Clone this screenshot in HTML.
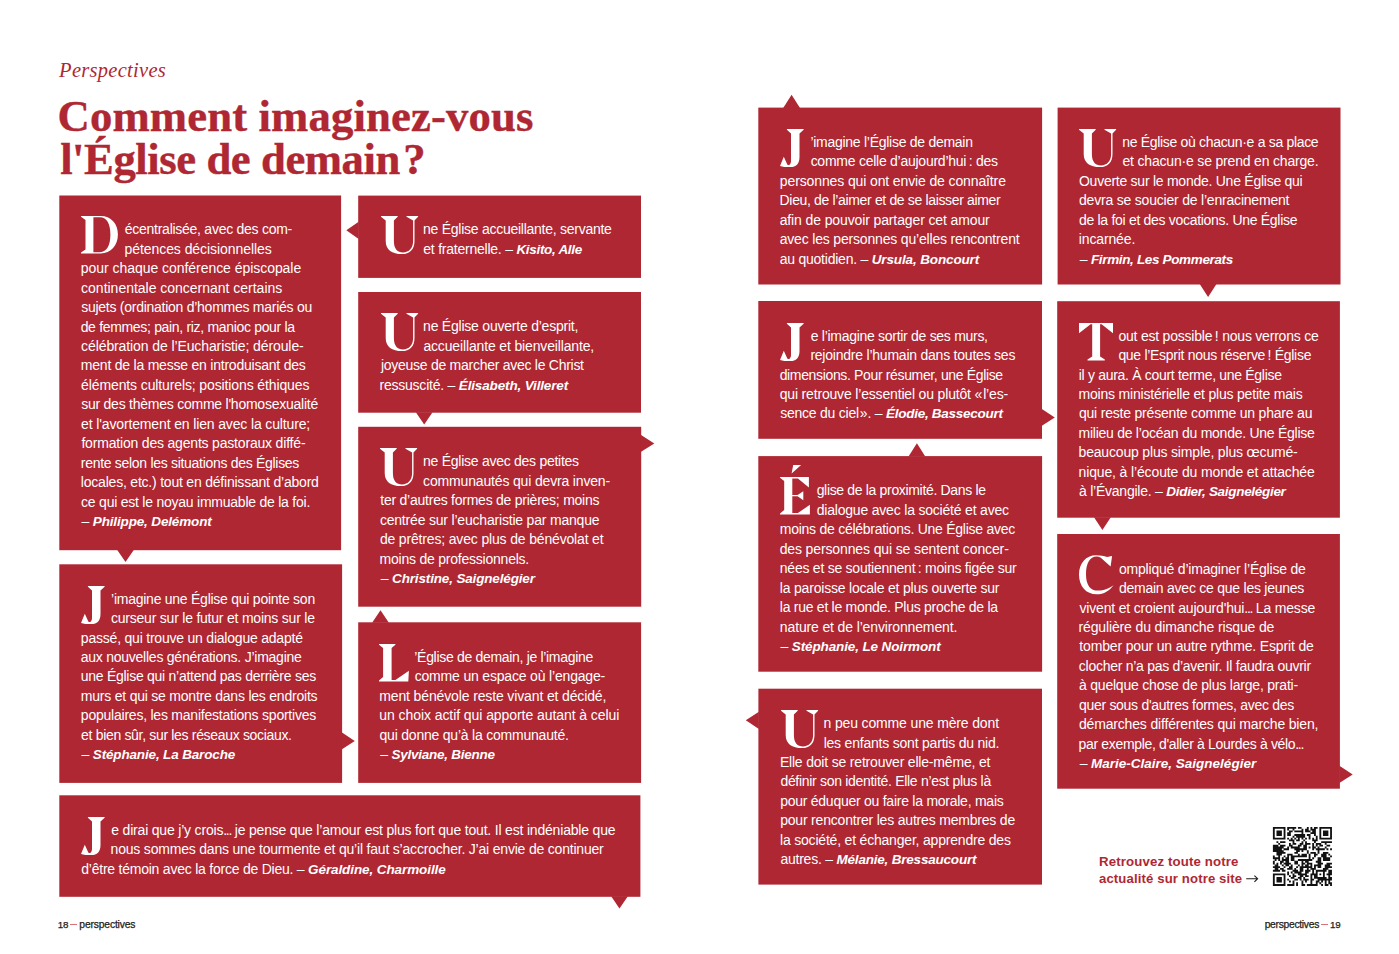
<!DOCTYPE html>
<html lang="fr"><head><meta charset="utf-8"><title>Perspectives</title>
<style>
html,body{margin:0;padding:0;background:#fff;}
body{width:1399px;height:954px;position:relative;overflow:hidden;font-family:"Liberation Sans",sans-serif;}
.ln{position:absolute;white-space:nowrap;color:#fff;font-size:14.0px;line-height:20px;height:20px;font-family:"Liberation Sans",sans-serif;}
.ln b{font-weight:bold;font-size:13.5px;}
.cap{position:absolute;color:#fff;-webkit-text-stroke:1.1px #fff;font-family:"Liberation Serif",serif;font-weight:bold;white-space:nowrap;transform-origin:0 0;}
svg.bg{position:absolute;left:0;top:0;}
.kick{position:absolute;font-family:"Liberation Serif",serif;font-style:italic;color:#af2732;white-space:nowrap;transform-origin:0 0;}
.h1{-webkit-text-stroke:0.4px #af2732;position:absolute;font-family:"Liberation Serif",serif;font-weight:bold;color:#af2732;white-space:nowrap;margin:0;transform-origin:0 0;}
.ft{position:absolute;color:#1d1d1b;white-space:nowrap;font-family:"Liberation Sans",sans-serif;transform-origin:0 0;}
.ft i{display:inline-block;width:7.5px;height:1px;background:#d9707a;vertical-align:2.6px;margin:0 1.9px 0 1.7px;}
.ft .dg{font-size:9.8px;}
.ft{-webkit-text-stroke:0.25px #1d1d1b;}
.qr{position:absolute;font-weight:bold;color:#af2732;white-space:nowrap;font-family:"Liberation Sans",sans-serif;transform-origin:0 0;}
</style></head><body>

<svg class="bg" width="1399" height="954" viewBox="0 0 1399 954">
<g fill="#af2732">
<rect x="59.3" y="195.5" width="281.8" height="354.7"/>
<polygon points="117.1,549.7 133.9,549.7 125.5,562.1"/>
<rect x="358.2" y="195.6" width="282.8" height="82.3"/>
<polygon points="358.7,221.7 358.7,238.9 346.3,230.3"/>
<rect x="358.2" y="292.0" width="282.8" height="120.7"/>
<polygon points="415.8,412.2 432.6,412.2 424.2,424.6"/>
<rect x="358.2" y="426.8" width="283.0" height="179.9"/>
<polygon points="640.7,434.8 640.7,452.0 654.3,443.4"/>
<rect x="358.2" y="622.3" width="282.9" height="160.6"/>
<polygon points="372.1,622.8 388.9,622.8 380.5,610.3"/>
<rect x="59.3" y="564.3" width="282.8" height="218.6"/>
<polygon points="341.6,732.3 341.6,749.5 354.8,740.9"/>
<rect x="59.3" y="795.3" width="581.1" height="101.5"/>
<polygon points="611.1,896.3 627.9,896.3 619.5,908.5"/>
<rect x="758.3" y="107.6" width="283.8" height="176.9"/>
<polygon points="783.2,108.1 800.0,108.1 791.6,94.8"/>
<rect x="1057.6" y="107.6" width="282.9" height="176.9"/>
<polygon points="1199.7,284.0 1216.5,284.0 1208.1,296.9"/>
<rect x="758.3" y="301.0" width="283.7" height="137.8"/>
<polygon points="1041.5,408.8 1041.5,426.0 1054.8,417.4"/>
<rect x="1057.2" y="301.2" width="282.7" height="216.5"/>
<polygon points="1094.0,517.2 1110.8,517.2 1102.4,530.1"/>
<rect x="758.3" y="456.1" width="283.8" height="215.6"/>
<polygon points="908.5,456.6 925.3,456.6 916.9,443.3"/>
<rect x="1057.2" y="534.0" width="282.7" height="254.7"/>
<polygon points="1339.4,765.8 1339.4,783.0 1352.7,774.4"/>
<rect x="758.4" y="688.7" width="283.6" height="195.9"/>
<polygon points="758.9,711.7 758.9,728.9 745.8,720.3"/>
</g>
<path fill="#111" d="M1272.90 826.90h12.57v1.84h-12.57zM1287.20 826.90h8.99v1.84h-8.99zM1297.93 826.90h3.63v1.84h-3.63zM1306.87 826.90h1.84v1.84h-1.84zM1310.45 826.90h1.84v1.84h-1.84zM1314.02 826.90h3.63v1.84h-3.63zM1319.38 826.90h12.57v1.84h-12.57zM1272.90 828.69h1.84v1.84h-1.84zM1283.63 828.69h1.84v1.84h-1.84zM1287.20 828.69h1.84v1.84h-1.84zM1292.57 828.69h1.84v1.84h-1.84zM1301.51 828.69h1.84v1.84h-1.84zM1305.08 828.69h3.63v1.84h-3.63zM1310.45 828.69h5.41v1.84h-5.41zM1319.38 828.69h1.84v1.84h-1.84zM1330.11 828.69h1.84v1.84h-1.84zM1272.90 830.48h1.84v1.84h-1.84zM1276.48 830.48h5.41v1.84h-5.41zM1283.63 830.48h1.84v1.84h-1.84zM1288.99 830.48h3.63v1.84h-3.63zM1294.35 830.48h8.99v1.84h-8.99zM1305.08 830.48h5.41v1.84h-5.41zM1312.23 830.48h3.63v1.84h-3.63zM1319.38 830.48h1.84v1.84h-1.84zM1322.96 830.48h5.41v1.84h-5.41zM1330.11 830.48h1.84v1.84h-1.84zM1272.90 832.26h1.84v1.84h-1.84zM1276.48 832.26h5.41v1.84h-5.41zM1283.63 832.26h1.84v1.84h-1.84zM1287.20 832.26h3.63v1.84h-3.63zM1301.51 832.26h1.84v1.84h-1.84zM1310.45 832.26h5.41v1.84h-5.41zM1319.38 832.26h1.84v1.84h-1.84zM1322.96 832.26h5.41v1.84h-5.41zM1330.11 832.26h1.84v1.84h-1.84zM1272.90 834.05h1.84v1.84h-1.84zM1276.48 834.05h5.41v1.84h-5.41zM1283.63 834.05h1.84v1.84h-1.84zM1287.20 834.05h3.63v1.84h-3.63zM1294.35 834.05h10.78v1.84h-10.78zM1306.87 834.05h3.63v1.84h-3.63zM1314.02 834.05h1.84v1.84h-1.84zM1319.38 834.05h1.84v1.84h-1.84zM1322.96 834.05h5.41v1.84h-5.41zM1330.11 834.05h1.84v1.84h-1.84zM1272.90 835.84h1.84v1.84h-1.84zM1283.63 835.84h1.84v1.84h-1.84zM1292.57 835.84h1.84v1.84h-1.84zM1296.14 835.84h8.99v1.84h-8.99zM1308.66 835.84h1.84v1.84h-1.84zM1315.81 835.84h1.84v1.84h-1.84zM1319.38 835.84h1.84v1.84h-1.84zM1330.11 835.84h1.84v1.84h-1.84zM1272.90 837.63h12.57v1.84h-12.57zM1287.20 837.63h1.84v1.84h-1.84zM1290.78 837.63h1.84v1.84h-1.84zM1294.35 837.63h1.84v1.84h-1.84zM1297.93 837.63h1.84v1.84h-1.84zM1301.51 837.63h1.84v1.84h-1.84zM1305.08 837.63h1.84v1.84h-1.84zM1308.66 837.63h1.84v1.84h-1.84zM1312.23 837.63h1.84v1.84h-1.84zM1315.81 837.63h1.84v1.84h-1.84zM1319.38 837.63h12.57v1.84h-12.57zM1288.99 839.42h5.41v1.84h-5.41zM1296.14 839.42h3.63v1.84h-3.63zM1303.29 839.42h1.84v1.84h-1.84zM1312.23 839.42h5.41v1.84h-5.41zM1276.48 841.20h1.84v1.84h-1.84zM1280.05 841.20h5.41v1.84h-5.41zM1292.57 841.20h1.84v1.84h-1.84zM1301.51 841.20h1.84v1.84h-1.84zM1305.08 841.20h1.84v1.84h-1.84zM1314.02 841.20h1.84v1.84h-1.84zM1321.17 841.20h10.78v1.84h-10.78zM1278.26 842.99h1.84v1.84h-1.84zM1288.99 842.99h1.84v1.84h-1.84zM1292.57 842.99h3.63v1.84h-3.63zM1299.72 842.99h3.63v1.84h-3.63zM1305.08 842.99h5.41v1.84h-5.41zM1312.23 842.99h1.84v1.84h-1.84zM1315.81 842.99h5.41v1.84h-5.41zM1324.75 842.99h1.84v1.84h-1.84zM1272.90 844.78h5.41v1.84h-5.41zM1280.05 844.78h5.41v1.84h-5.41zM1288.99 844.78h3.63v1.84h-3.63zM1297.93 844.78h3.63v1.84h-3.63zM1303.29 844.78h3.63v1.84h-3.63zM1312.23 844.78h1.84v1.84h-1.84zM1315.81 844.78h1.84v1.84h-1.84zM1319.38 844.78h3.63v1.84h-3.63zM1326.54 844.78h3.63v1.84h-3.63zM1272.90 846.57h10.78v1.84h-10.78zM1287.20 846.57h1.84v1.84h-1.84zM1290.78 846.57h8.99v1.84h-8.99zM1303.29 846.57h3.63v1.84h-3.63zM1308.66 846.57h1.84v1.84h-1.84zM1312.23 846.57h3.63v1.84h-3.63zM1317.60 846.57h1.84v1.84h-1.84zM1324.75 846.57h1.84v1.84h-1.84zM1272.90 848.35h8.99v1.84h-8.99zM1283.63 848.35h5.41v1.84h-5.41zM1294.35 848.35h12.57v1.84h-12.57zM1312.23 848.35h1.84v1.84h-1.84zM1315.81 848.35h8.99v1.84h-8.99zM1326.54 848.35h1.84v1.84h-1.84zM1330.11 848.35h1.84v1.84h-1.84zM1272.90 850.14h10.78v1.84h-10.78zM1296.14 850.14h3.63v1.84h-3.63zM1301.51 850.14h1.84v1.84h-1.84zM1306.87 850.14h1.84v1.84h-1.84zM1317.60 850.14h1.84v1.84h-1.84zM1276.48 851.93h8.99v1.84h-8.99zM1294.35 851.93h3.63v1.84h-3.63zM1306.87 851.93h1.84v1.84h-1.84zM1310.45 851.93h5.41v1.84h-5.41zM1317.60 851.93h1.84v1.84h-1.84zM1322.96 851.93h5.41v1.84h-5.41zM1276.48 853.72h5.41v1.84h-5.41zM1287.20 853.72h5.41v1.84h-5.41zM1297.93 853.72h1.84v1.84h-1.84zM1301.51 853.72h5.41v1.84h-5.41zM1308.66 853.72h1.84v1.84h-1.84zM1314.02 853.72h3.63v1.84h-3.63zM1321.17 853.72h5.41v1.84h-5.41zM1328.32 853.72h1.84v1.84h-1.84zM1272.90 855.51h1.84v1.84h-1.84zM1278.26 855.51h1.84v1.84h-1.84zM1283.63 855.51h1.84v1.84h-1.84zM1287.20 855.51h1.84v1.84h-1.84zM1290.78 855.51h16.14v1.84h-16.14zM1308.66 855.51h1.84v1.84h-1.84zM1314.02 855.51h1.84v1.84h-1.84zM1321.17 855.51h5.41v1.84h-5.41zM1330.11 855.51h1.84v1.84h-1.84zM1272.90 857.29h7.20v1.84h-7.20zM1281.84 857.29h1.84v1.84h-1.84zM1285.42 857.29h3.63v1.84h-3.63zM1290.78 857.29h3.63v1.84h-3.63zM1308.66 857.29h1.84v1.84h-1.84zM1312.23 857.29h1.84v1.84h-1.84zM1317.60 857.29h3.63v1.84h-3.63zM1322.96 857.29h7.20v1.84h-7.20zM1274.69 859.08h1.84v1.84h-1.84zM1278.26 859.08h1.84v1.84h-1.84zM1281.84 859.08h7.20v1.84h-7.20zM1290.78 859.08h3.63v1.84h-3.63zM1297.93 859.08h14.35v1.84h-14.35zM1317.60 859.08h3.63v1.84h-3.63zM1322.96 859.08h7.20v1.84h-7.20zM1272.90 860.87h1.84v1.84h-1.84zM1280.05 860.87h3.63v1.84h-3.63zM1285.42 860.87h3.63v1.84h-3.63zM1294.35 860.87h3.63v1.84h-3.63zM1301.51 860.87h1.84v1.84h-1.84zM1305.08 860.87h3.63v1.84h-3.63zM1315.81 860.87h5.41v1.84h-5.41zM1272.90 862.66h1.84v1.84h-1.84zM1276.48 862.66h1.84v1.84h-1.84zM1280.05 862.66h1.84v1.84h-1.84zM1283.63 862.66h7.20v1.84h-7.20zM1294.35 862.66h3.63v1.84h-3.63zM1301.51 862.66h3.63v1.84h-3.63zM1306.87 862.66h5.41v1.84h-5.41zM1317.60 862.66h5.41v1.84h-5.41zM1326.54 862.66h5.41v1.84h-5.41zM1274.69 864.45h3.63v1.84h-3.63zM1281.84 864.45h1.84v1.84h-1.84zM1285.42 864.45h3.63v1.84h-3.63zM1290.78 864.45h1.84v1.84h-1.84zM1297.93 864.45h1.84v1.84h-1.84zM1301.51 864.45h1.84v1.84h-1.84zM1305.08 864.45h3.63v1.84h-3.63zM1310.45 864.45h1.84v1.84h-1.84zM1314.02 864.45h7.20v1.84h-7.20zM1324.75 864.45h5.41v1.84h-5.41zM1272.90 866.23h7.20v1.84h-7.20zM1283.63 866.23h1.84v1.84h-1.84zM1288.99 866.23h3.63v1.84h-3.63zM1296.14 866.23h1.84v1.84h-1.84zM1299.72 866.23h12.57v1.84h-12.57zM1314.02 866.23h1.84v1.84h-1.84zM1317.60 866.23h3.63v1.84h-3.63zM1324.75 866.23h7.20v1.84h-7.20zM1274.69 868.02h3.63v1.84h-3.63zM1280.05 868.02h3.63v1.84h-3.63zM1287.20 868.02h5.41v1.84h-5.41zM1294.35 868.02h1.84v1.84h-1.84zM1299.72 868.02h3.63v1.84h-3.63zM1306.87 868.02h1.84v1.84h-1.84zM1310.45 868.02h5.41v1.84h-5.41zM1322.96 868.02h5.41v1.84h-5.41zM1272.90 869.81h7.20v1.84h-7.20zM1281.84 869.81h3.63v1.84h-3.63zM1292.57 869.81h5.41v1.84h-5.41zM1299.72 869.81h3.63v1.84h-3.63zM1305.08 869.81h5.41v1.84h-5.41zM1312.23 869.81h1.84v1.84h-1.84zM1315.81 869.81h10.78v1.84h-10.78zM1328.32 869.81h3.63v1.84h-3.63zM1287.20 871.60h1.84v1.84h-1.84zM1290.78 871.60h1.84v1.84h-1.84zM1294.35 871.60h7.20v1.84h-7.20zM1305.08 871.60h3.63v1.84h-3.63zM1312.23 871.60h1.84v1.84h-1.84zM1315.81 871.60h1.84v1.84h-1.84zM1322.96 871.60h1.84v1.84h-1.84zM1328.32 871.60h3.63v1.84h-3.63zM1272.90 873.38h12.57v1.84h-12.57zM1287.20 873.38h1.84v1.84h-1.84zM1292.57 873.38h1.84v1.84h-1.84zM1297.93 873.38h8.99v1.84h-8.99zM1310.45 873.38h7.20v1.84h-7.20zM1319.38 873.38h1.84v1.84h-1.84zM1322.96 873.38h1.84v1.84h-1.84zM1326.54 873.38h5.41v1.84h-5.41zM1272.90 875.17h1.84v1.84h-1.84zM1283.63 875.17h1.84v1.84h-1.84zM1288.99 875.17h1.84v1.84h-1.84zM1292.57 875.17h3.63v1.84h-3.63zM1299.72 875.17h3.63v1.84h-3.63zM1305.08 875.17h3.63v1.84h-3.63zM1310.45 875.17h1.84v1.84h-1.84zM1314.02 875.17h3.63v1.84h-3.63zM1322.96 875.17h1.84v1.84h-1.84zM1328.32 875.17h1.84v1.84h-1.84zM1272.90 876.96h1.84v1.84h-1.84zM1276.48 876.96h5.41v1.84h-5.41zM1283.63 876.96h1.84v1.84h-1.84zM1290.78 876.96h3.63v1.84h-3.63zM1297.93 876.96h3.63v1.84h-3.63zM1303.29 876.96h1.84v1.84h-1.84zM1310.45 876.96h1.84v1.84h-1.84zM1314.02 876.96h12.57v1.84h-12.57zM1328.32 876.96h3.63v1.84h-3.63zM1272.90 878.75h1.84v1.84h-1.84zM1276.48 878.75h5.41v1.84h-5.41zM1283.63 878.75h1.84v1.84h-1.84zM1287.20 878.75h1.84v1.84h-1.84zM1294.35 878.75h3.63v1.84h-3.63zM1299.72 878.75h1.84v1.84h-1.84zM1303.29 878.75h5.41v1.84h-5.41zM1310.45 878.75h3.63v1.84h-3.63zM1317.60 878.75h14.35v1.84h-14.35zM1272.90 880.54h1.84v1.84h-1.84zM1276.48 880.54h5.41v1.84h-5.41zM1283.63 880.54h1.84v1.84h-1.84zM1288.99 880.54h1.84v1.84h-1.84zM1292.57 880.54h1.84v1.84h-1.84zM1301.51 880.54h1.84v1.84h-1.84zM1305.08 880.54h1.84v1.84h-1.84zM1310.45 880.54h1.84v1.84h-1.84zM1315.81 880.54h3.63v1.84h-3.63zM1321.17 880.54h1.84v1.84h-1.84zM1324.75 880.54h1.84v1.84h-1.84zM1328.32 880.54h1.84v1.84h-1.84zM1272.90 882.32h1.84v1.84h-1.84zM1283.63 882.32h1.84v1.84h-1.84zM1292.57 882.32h1.84v1.84h-1.84zM1296.14 882.32h1.84v1.84h-1.84zM1301.51 882.32h1.84v1.84h-1.84zM1310.45 882.32h1.84v1.84h-1.84zM1315.81 882.32h1.84v1.84h-1.84zM1319.38 882.32h1.84v1.84h-1.84zM1324.75 882.32h1.84v1.84h-1.84zM1328.32 882.32h3.63v1.84h-3.63zM1272.90 884.11h12.57v1.84h-12.57zM1287.20 884.11h7.20v1.84h-7.20zM1296.14 884.11h1.84v1.84h-1.84zM1301.51 884.11h3.63v1.84h-3.63zM1306.87 884.11h10.78v1.84h-10.78zM1321.17 884.11h1.84v1.84h-1.84zM1324.75 884.11h3.63v1.84h-3.63zM1330.11 884.11h1.84v1.84h-1.84z"/>
</svg>
<div class="kick" id="kick" style="left:59.085px;top:60.33px;font-size:20.5px;line-height:20.5px;letter-spacing:0.288182px;transform:scaleX(1)">Perspectives</div>
<h1 class="h1" id="h1a" style="left:57.53px;top:93.86px;font-size:44.7px;line-height:44.7px;letter-spacing:0.15225px;transform:scaleX(1)">Comment imaginez-vous</h1>
<h1 class="h1" id="h1b" style="left:60.13px;top:136.86px;font-size:44.7px;line-height:44.7px;letter-spacing:-0.433158px;transform:scaleX(1)">l'Église de demain ?</h1>
<svg class="cap" id="capA" style="position:absolute;left:80.90px;top:216.26px;overflow:visible" width="40" height="40"><path fill="#fff" fill-rule="evenodd" d="M0,0H19.6C30,0 36.9,7.5 36.9,18.6C36.9,29.7 30,37.4 19.6,37.4H0V36.6L4.5,33.4V3.9L0,0.8ZM12.4,1.2V36.2H19C26,36.2 29.4,29 29.4,18.6C29.4,8 26,1.2 19,1.2Z"/></svg>
<div class="ln" id="lnA1" style="left:124.81px;top:219px;letter-spacing:-0.264px">écentralisée, avec des com-</div>
<div class="ln" id="lnA2" style="left:124.47px;top:239px;letter-spacing:-0.060px">pétences décisionnelles</div>
<div class="ln" id="lnA3" style="left:80.86px;top:258px;letter-spacing:-0.046px">pour chaque conférence épiscopale</div>
<div class="ln" id="lnA4" style="left:81.11px;top:278px;letter-spacing:-0.014px">continentale concernant certains</div>
<div class="ln" id="lnA5" style="left:81.18px;top:297px;letter-spacing:-0.261px">sujets (ordination d’hommes mariés ou</div>
<div class="ln" id="lnA6" style="left:80.67px;top:317px;letter-spacing:-0.322px">de femmes; pain, riz, manioc pour la</div>
<div class="ln" id="lnA7" style="left:81.11px;top:336px;letter-spacing:-0.104px">célébration de l’Eucharistie; déroule-</div>
<div class="ln" id="lnA8" style="left:80.83px;top:355px;letter-spacing:-0.220px">ment de la messe en introduisant des</div>
<div class="ln" id="lnA9" style="left:81.11px;top:375px;letter-spacing:-0.118px">éléments culturels; positions éthiques</div>
<div class="ln" id="lnA10" style="left:81.18px;top:394px;letter-spacing:-0.239px">sur des thèmes comme l'homosexualité</div>
<div class="ln" id="lnA11" style="left:81.11px;top:414px;letter-spacing:-0.139px">et l'avortement en lien avec la culture;</div>
<div class="ln" id="lnA12" style="left:81.42px;top:433px;letter-spacing:-0.187px">formation des agents pastoraux diffé-</div>
<div class="ln" id="lnA13" style="left:80.83px;top:453px;letter-spacing:-0.299px">rente selon les situations des Églises</div>
<div class="ln" id="lnA14" style="left:80.86px;top:472px;letter-spacing:-0.212px">locales, etc.) tout en définissant d’abord</div>
<div class="ln" id="lnA15" style="left:81.11px;top:492px;letter-spacing:-0.236px">ce qui est le noyau immuable de la foi.</div>
<div class="ln" id="lnA16" style="left:81.57px;top:511px;letter-spacing:-0.230px">– <b style="letter-spacing:-0.148px"><i>Philippe, Delémont</i></b></div>
<svg class="cap" id="capB" style="position:absolute;left:380.50px;top:216.46px;overflow:visible" width="40" height="40"><path fill="#fff" fill-rule="evenodd" d="M0,0H16.7V0.8L12.9,4.4V25C12.9,33 16.5,36.4 22,36.4C28,36.4 32.1,32 32.1,25V4.4L25.5,0.8V0H37.1V0.8L33.5,4.4V25C33.5,33.5 28.5,38.1 21,38.1C11,38.1 4.7,34 4.7,25V4.4L0,0.8Z"/></svg>
<div class="ln" id="lnB1" style="left:423.07px;top:219px;letter-spacing:-0.260px">ne Église accueillante, servante</div>
<div class="ln" id="lnB2" style="left:423.27px;top:239px;letter-spacing:-0.230px">et fraternelle. – <b style="letter-spacing:-0.310px"><i>Kisito, Alle</i></b></div>
<svg class="cap" id="capC" style="position:absolute;left:380.50px;top:313.36px;overflow:visible" width="40" height="40"><path fill="#fff" fill-rule="evenodd" d="M0,0H16.7V0.8L12.9,4.4V25C12.9,33 16.5,36.4 22,36.4C28,36.4 32.1,32 32.1,25V4.4L25.5,0.8V0H37.1V0.8L33.5,4.4V25C33.5,33.5 28.5,38.1 21,38.1C11,38.1 4.7,34 4.7,25V4.4L0,0.8Z"/></svg>
<div class="ln" id="lnC1" style="left:423.07px;top:316px;letter-spacing:-0.222px">ne Église ouverte d’esprit,</div>
<div class="ln" id="lnC2" style="left:423.38px;top:336px;letter-spacing:-0.147px">accueillante et bienveillante,</div>
<div class="ln" id="lnC3" style="left:380.94px;top:355px;letter-spacing:-0.268px">joyeuse de marcher avec le Christ</div>
<div class="ln" id="lnC4" style="left:379.52px;top:375px;letter-spacing:-0.230px">ressuscité. – <b style="letter-spacing:-0.147px"><i>Élisabeth, Villeret</i></b></div>
<svg class="cap" id="capD" style="position:absolute;left:379.90px;top:448.46px;overflow:visible" width="40" height="40"><path fill="#fff" fill-rule="evenodd" d="M0,0H16.7V0.8L12.9,4.4V25C12.9,33 16.5,36.4 22,36.4C28,36.4 32.1,32 32.1,25V4.4L25.5,0.8V0H37.1V0.8L33.5,4.4V25C33.5,33.5 28.5,38.1 21,38.1C11,38.1 4.7,34 4.7,25V4.4L0,0.8Z"/></svg>
<div class="ln" id="lnD1" style="left:423.07px;top:451px;letter-spacing:-0.266px">ne Église avec des petites</div>
<div class="ln" id="lnD2" style="left:423.09px;top:471px;letter-spacing:-0.162px">communautés qui devra inven-</div>
<div class="ln" id="lnD3" style="left:380.33px;top:490px;letter-spacing:-0.244px">ter d’autres formes de prières; moins</div>
<div class="ln" id="lnD4" style="left:379.89px;top:510px;letter-spacing:-0.193px">centrée sur l’eucharistie par manque</div>
<div class="ln" id="lnD5" style="left:379.89px;top:529px;letter-spacing:-0.162px">de prêtres; avec plus de bénévolat et</div>
<div class="ln" id="lnD6" style="left:379.58px;top:549px;letter-spacing:-0.226px">moins de professionnels.</div>
<div class="ln" id="lnD7" style="left:380.86px;top:568px;letter-spacing:-0.230px">– <b style="letter-spacing:-0.155px"><i>Christine, Saignelégier</i></b></div>
<svg class="cap" id="capE" style="position:absolute;left:379.40px;top:644.06px;overflow:visible" width="40" height="40"><path fill="#fff" fill-rule="evenodd" d="M0,0H16.4V0.8L12.6,3.9V36.1H16.4L29.9,26.7L29.3,37.4H0V36.6L4.1,33V3.9L0,0.8Z"/></svg>
<div class="ln" id="lnE1" style="left:414.34px;top:647px;letter-spacing:-0.315px">’Église de demain, je l’imagine</div>
<div class="ln" id="lnE2" style="left:414.66px;top:666px;letter-spacing:-0.176px">comme un espace où l’engage-</div>
<div class="ln" id="lnE3" style="left:379.25px;top:686px;letter-spacing:-0.132px">ment bénévole reste vivant et décidé,</div>
<div class="ln" id="lnE4" style="left:379.34px;top:705px;letter-spacing:-0.071px">un choix actif qui apporte autant à celui</div>
<div class="ln" id="lnE5" style="left:379.55px;top:725px;letter-spacing:-0.215px">qui donne qu’à la communauté.</div>
<div class="ln" id="lnE6" style="left:380.37px;top:744px;letter-spacing:-0.230px">– <b style="letter-spacing:-0.259px"><i>Sylviane, Bienne</i></b></div>
<svg class="cap" id="capF" style="position:absolute;left:80.90px;top:585.66px;overflow:visible" width="40" height="40"><path fill="#fff" fill-rule="evenodd" d="M6.9,0H23.6V0.8L19.5,4.4V28C19.5,35 16,38.1 10.4,38.1C6,38.1 2.5,37.8 0,36.9L3.8,27.7L7.2,35.2C8,36.3 9,36.2 9.8,35.5C10.6,34.8 11,33.5 11,32V4.4L6.9,0.8Z"/></svg>
<div class="ln" id="lnF1" style="left:111.05px;top:589px;letter-spacing:-0.253px">’imagine une Église qui pointe son</div>
<div class="ln" id="lnF2" style="left:110.94px;top:608px;letter-spacing:-0.217px">curseur sur le futur et moins sur le</div>
<div class="ln" id="lnF3" style="left:80.86px;top:628px;letter-spacing:-0.215px">passé, qui trouve un dialogue adapté</div>
<div class="ln" id="lnF4" style="left:80.67px;top:647px;letter-spacing:-0.239px">aux nouvelles générations. J’imagine</div>
<div class="ln" id="lnF5" style="left:80.79px;top:666px;letter-spacing:-0.271px">une Église qui n’attend pas derrière ses</div>
<div class="ln" id="lnF6" style="left:80.83px;top:686px;letter-spacing:-0.221px">murs et qui se montre dans les endroits</div>
<div class="ln" id="lnF7" style="left:80.86px;top:705px;letter-spacing:-0.230px">populaires, les manifestations sportives</div>
<div class="ln" id="lnF8" style="left:81.11px;top:725px;letter-spacing:-0.324px">et bien sûr, sur les réseaux sociaux.</div>
<div class="ln" id="lnF9" style="left:81.57px;top:744px;letter-spacing:-0.230px">– <b style="letter-spacing:-0.154px"><i>Stéphanie, La Baroche</i></b></div>
<svg class="cap" id="capG" style="position:absolute;left:81.00px;top:816.66px;overflow:visible" width="40" height="40"><path fill="#fff" fill-rule="evenodd" d="M6.9,0H23.6V0.8L19.5,4.4V28C19.5,35 16,38.1 10.4,38.1C6,38.1 2.5,37.8 0,36.9L3.8,27.7L7.2,35.2C8,36.3 9,36.2 9.8,35.5C10.6,34.8 11,33.5 11,32V4.4L6.9,0.8Z"/></svg>
<div class="ln" id="lnG1" style="left:111.25px;top:820px;letter-spacing:-0.188px">e dirai que j’y crois<span style="letter-spacing:-1.3px">...</span> je pense que l’amour est plus fort que tout. Il est indéniable que</div>
<div class="ln" id="lnG2" style="left:110.58px;top:839px;letter-spacing:-0.197px">nous sommes dans une tourmente et qu’il faut s’accrocher. J’ai envie de continuer</div>
<div class="ln" id="lnG3" style="left:81.24px;top:859px;letter-spacing:-0.230px">d’être témoin avec la force de Dieu. – <b style="letter-spacing:-0.094px"><i>Géraldine, Charmoille</i></b></div>
<svg class="cap" id="capH" style="position:absolute;left:779.90px;top:129.06px;overflow:visible" width="40" height="40"><path fill="#fff" fill-rule="evenodd" d="M6.9,0H23.6V0.8L19.5,4.4V28C19.5,35 16,38.1 10.4,38.1C6,38.1 2.5,37.8 0,36.9L3.8,27.7L7.2,35.2C8,36.3 9,36.2 9.8,35.5C10.6,34.8 11,33.5 11,32V4.4L6.9,0.8Z"/></svg>
<div class="ln" id="lnH1" style="left:810.44px;top:132px;letter-spacing:-0.274px">’imagine l’Église de demain</div>
<div class="ln" id="lnH2" style="left:810.64px;top:151px;letter-spacing:-0.253px">comme celle d’aujourd’hui : des</div>
<div class="ln" id="lnH3" style="left:779.86px;top:171px;letter-spacing:-0.123px">personnes qui ont envie de connaître</div>
<div class="ln" id="lnH4" style="left:779.62px;top:190px;letter-spacing:-0.345px">Dieu, de l’aimer et de se laisser aimer</div>
<div class="ln" id="lnH5" style="left:779.67px;top:210px;letter-spacing:-0.119px">afin de pouvoir partager cet amour</div>
<div class="ln" id="lnH6" style="left:779.67px;top:229px;letter-spacing:-0.176px">avec les personnes qu’elles rencontrent</div>
<div class="ln" id="lnH7" style="left:779.67px;top:249px;letter-spacing:-0.230px">au quotidien. – <b style="letter-spacing:-0.135px"><i>Ursula, Boncourt</i></b></div>
<svg class="cap" id="capI" style="position:absolute;left:1079.20px;top:129.06px;overflow:visible" width="40" height="40"><path fill="#fff" fill-rule="evenodd" d="M0,0H16.7V0.8L12.9,4.4V25C12.9,33 16.5,36.4 22,36.4C28,36.4 32.1,32 32.1,25V4.4L25.5,0.8V0H37.1V0.8L33.5,4.4V25C33.5,33.5 28.5,38.1 21,38.1C11,38.1 4.7,34 4.7,25V4.4L0,0.8Z"/></svg>
<div class="ln" id="lnI1" style="left:1122.16px;top:132px;letter-spacing:-0.315px">ne Église où chacun·e a sa place</div>
<div class="ln" id="lnI2" style="left:1122.47px;top:151px;letter-spacing:-0.183px">et chacun·e se prend en charge.</div>
<div class="ln" id="lnI3" style="left:1078.97px;top:171px;letter-spacing:-0.255px">Ouverte sur le monde. Une Église qui</div>
<div class="ln" id="lnI4" style="left:1078.97px;top:190px;letter-spacing:-0.200px">devra se soucier de l’enracinement</div>
<div class="ln" id="lnI5" style="left:1078.97px;top:210px;letter-spacing:-0.300px">de la foi et des vocations. Une Église</div>
<div class="ln" id="lnI6" style="left:1078.85px;top:229px;letter-spacing:-0.142px">incarnée.</div>
<div class="ln" id="lnI7" style="left:1079.72px;top:249px;letter-spacing:-0.230px">– <b style="letter-spacing:-0.349px"><i>Firmin, Les Pommerats</i></b></div>
<svg class="cap" id="capJ" style="position:absolute;left:779.90px;top:322.66px;overflow:visible" width="40" height="40"><path fill="#fff" fill-rule="evenodd" d="M6.9,0H23.6V0.8L19.5,4.4V28C19.5,35 16,38.1 10.4,38.1C6,38.1 2.5,37.8 0,36.9L3.8,27.7L7.2,35.2C8,36.3 9,36.2 9.8,35.5C10.6,34.8 11,33.5 11,32V4.4L6.9,0.8Z"/></svg>
<div class="ln" id="lnJ1" style="left:810.71px;top:326px;letter-spacing:-0.288px">e l’imagine sortir de ses murs,</div>
<div class="ln" id="lnJ2" style="left:810.39px;top:345px;letter-spacing:-0.225px">rejoindre l’humain dans toutes ses</div>
<div class="ln" id="lnJ3" style="left:779.67px;top:365px;letter-spacing:-0.351px">dimensions. Pour résumer, une Église</div>
<div class="ln" id="lnJ4" style="left:779.67px;top:384px;letter-spacing:-0.169px">qui retrouve l’essentiel ou plutôt « l’es-</div>
<div class="ln" id="lnJ5" style="left:780.18px;top:403px;letter-spacing:-0.230px">sence du ciel ». – <b style="letter-spacing:-0.261px"><i>Élodie, Bassecourt</i></b></div>
<svg class="cap" id="capK" style="position:absolute;left:1078.70px;top:322.66px;overflow:visible" width="40" height="40"><path fill="#fff" fill-rule="evenodd" d="M0,0H34V10.3L22.6,1.3H21.1V33.4L25.8,36.6V37.4H8.5V36.6L13.2,33.4V1.3H11.6L0,10.3Z"/></svg>
<div class="ln" id="lnK1" style="left:1118.45px;top:326px;letter-spacing:-0.217px">out est possible ! nous verrons ce</div>
<div class="ln" id="lnK2" style="left:1118.38px;top:345px;letter-spacing:-0.295px">que l’Esprit nous réserve ! Église</div>
<div class="ln" id="lnK3" style="left:1078.75px;top:365px;letter-spacing:-0.309px">il y aura. À court terme, une Église</div>
<div class="ln" id="lnK4" style="left:1078.56px;top:384px;letter-spacing:-0.203px">moins ministérielle et plus petite mais</div>
<div class="ln" id="lnK5" style="left:1078.94px;top:403px;letter-spacing:-0.200px">qui reste présente comme un phare au</div>
<div class="ln" id="lnK6" style="left:1078.56px;top:423px;letter-spacing:-0.262px">milieu de l’océan du monde. Une Église</div>
<div class="ln" id="lnK7" style="left:1078.56px;top:442px;letter-spacing:-0.177px">beaucoup plus simple, plus œcumé-</div>
<div class="ln" id="lnK8" style="left:1078.56px;top:462px;letter-spacing:-0.137px">nique, à l’écoute du monde et attachée</div>
<div class="ln" id="lnK9" style="left:1078.94px;top:481px;letter-spacing:-0.230px">à l’Évangile. – <b style="letter-spacing:-0.302px"><i>Didier, Saignelégier</i></b></div>
<svg class="cap" id="capL" style="position:absolute;left:779.90px;top:477.46px;overflow:visible" width="40" height="40"><path fill="#fff" fill-rule="evenodd" d="M0,0H28.9V10.4L17.9,1.4H12.3V17.9H17.6L23.3,14.2V23.3L17.6,19.2H12.3V36.1H17.9L29.9,27.7V37.4H0V36.6L4.2,33V4.1L0,0.8ZM13.2,-12.1H21.1L11.6,-3.5Z"/></svg>
<div class="ln" id="lnL1" style="left:816.67px;top:480px;letter-spacing:-0.332px">glise de la proximité. Dans le</div>
<div class="ln" id="lnL2" style="left:816.67px;top:500px;letter-spacing:-0.195px">dialogue avec la société et avec</div>
<div class="ln" id="lnL3" style="left:779.83px;top:519px;letter-spacing:-0.263px">moins de célébrations. Une Église avec</div>
<div class="ln" id="lnL4" style="left:779.67px;top:539px;letter-spacing:-0.124px">des personnes qui se sentent concer-</div>
<div class="ln" id="lnL5" style="left:779.83px;top:558px;letter-spacing:-0.247px">nées et se soutiennent : moins figée sur</div>
<div class="ln" id="lnL6" style="left:779.86px;top:578px;letter-spacing:-0.206px">la paroisse locale et plus ouverte sur</div>
<div class="ln" id="lnL7" style="left:779.86px;top:597px;letter-spacing:-0.272px">la rue et le monde. Plus proche de la</div>
<div class="ln" id="lnL8" style="left:779.83px;top:617px;letter-spacing:-0.137px">nature et de l’environnement.</div>
<div class="ln" id="lnL9" style="left:780.57px;top:636px;letter-spacing:-0.230px">– <b style="letter-spacing:-0.124px"><i>Stéphanie, Le Noirmont</i></b></div>
<svg class="cap" id="capM" style="position:absolute;left:1078.70px;top:555.66px;overflow:visible" width="40" height="40"><path fill="#fff" fill-rule="evenodd" d="M33.1,0.1L31.6,10.5L21.8,1.8C20.5,1 19,0.6 17.5,0.6C11,0.6 7,7.2 7,18.4C7,29.2 11.5,34.6 19,34.6C25,34.6 30.5,32.2 34.7,28.9C30.5,34.7 25,38.2 17.7,38.2C7,38.2 0,30.2 0,18.4C0,7.2 7,-0.8 17,-0.8C21.5,-0.8 25,0 28,1Z"/></svg>
<div class="ln" id="lnM1" style="left:1118.97px;top:559px;letter-spacing:-0.203px">ompliqué d’imaginer l’Église de</div>
<div class="ln" id="lnM2" style="left:1118.94px;top:578px;letter-spacing:-0.243px">demain avec ce que les jeunes</div>
<div class="ln" id="lnM3" style="left:1079.49px;top:598px;letter-spacing:-0.179px">vivent et croient aujourd'hui<span style="letter-spacing:-1.3px">...</span> La messe</div>
<div class="ln" id="lnM4" style="left:1078.52px;top:617px;letter-spacing:-0.138px">régulière du dimanche risque de</div>
<div class="ln" id="lnM5" style="left:1079.31px;top:636px;letter-spacing:-0.161px">tomber pour un autre rythme. Esprit de</div>
<div class="ln" id="lnM6" style="left:1078.87px;top:656px;letter-spacing:-0.277px">clocher n’a pas d’avenir. Il faudra ouvrir</div>
<div class="ln" id="lnM7" style="left:1078.94px;top:675px;letter-spacing:-0.202px">à quelque chose de plus large, prati-</div>
<div class="ln" id="lnM8" style="left:1078.94px;top:695px;letter-spacing:-0.291px">quer sous d'autres formes, avec des</div>
<div class="ln" id="lnM9" style="left:1078.94px;top:714px;letter-spacing:-0.167px">démarches différentes qui marche bien,</div>
<div class="ln" id="lnM10" style="left:1078.56px;top:734px;letter-spacing:-0.336px">par exemple, d'aller à Lourdes à vélo<span style="letter-spacing:-1.3px">...</span></div>
<div class="ln" id="lnM11" style="left:1079.71px;top:753px;letter-spacing:-0.230px">– <b style="letter-spacing:0.007px"><i>Marie-Claire, Saignelégier</i></b></div>
<svg class="cap" id="capN" style="position:absolute;left:780.50px;top:710.16px;overflow:visible" width="40" height="40"><path fill="#fff" fill-rule="evenodd" d="M0,0H16.7V0.8L12.9,4.4V25C12.9,33 16.5,36.4 22,36.4C28,36.4 32.1,32 32.1,25V4.4L25.5,0.8V0H37.1V0.8L33.5,4.4V25C33.5,33.5 28.5,38.1 21,38.1C11,38.1 4.7,34 4.7,25V4.4L0,0.8Z"/></svg>
<div class="ln" id="lnN1" style="left:823.52px;top:713px;letter-spacing:-0.145px">n peu comme une mère dont</div>
<div class="ln" id="lnN2" style="left:823.63px;top:733px;letter-spacing:-0.208px">les enfants sont partis du nid.</div>
<div class="ln" id="lnN3" style="left:779.89px;top:752px;letter-spacing:-0.188px">Elle doit se retrouver elle-même, et</div>
<div class="ln" id="lnN4" style="left:780.41px;top:771px;letter-spacing:-0.302px">définir son identité. Elle n’est plus là</div>
<div class="ln" id="lnN5" style="left:780.14px;top:791px;letter-spacing:-0.252px">pour éduquer ou faire la morale, mais</div>
<div class="ln" id="lnN6" style="left:780.14px;top:810px;letter-spacing:-0.191px">pour rencontrer les autres membres de</div>
<div class="ln" id="lnN7" style="left:780.02px;top:830px;letter-spacing:-0.197px">la société, et échanger, apprendre des</div>
<div class="ln" id="lnN8" style="left:780.41px;top:849px;letter-spacing:-0.230px">autres. – <b style="letter-spacing:-0.202px"><i>Mélanie, Bressaucourt</i></b></div>
<div class="ft" id="ftl" style="left:57.635px;top:919.98px;font-size:10.3px;line-height:10.3px;letter-spacing:-0.150769px;transform:scaleX(1)"><span class="dg">18</span><i></i>perspectives</div>
<div class="ft" id="ftr" style="left:1264.68px;top:919.98px;font-size:10.3px;line-height:10.3px;letter-spacing:-0.287692px;transform:scaleX(1)">perspectives<i></i><span class="dg">19</span></div>
<div class="qr" id="qr1" style="left:1099px;top:856.40px;font-size:12.4px;line-height:12.4px;letter-spacing:0.12px;transform:scaleX(1.0688)">Retrouvez toute notre</div>
<div class="qr" id="qr2" style="left:1099.33px;top:872.70px;font-size:12.4px;line-height:12.4px;letter-spacing:0.12px;transform:scaleX(1.06057)">actualité sur notre site</div>
<svg id="arrow" style="position:absolute;left:1246px;top:873px" width="13" height="12" viewBox="0 0 13 12"><path d="M0.2 5.7H11.4M8.4 2.6L11.6 5.7L8.4 8.8" fill="none" stroke="#1d1d1b" stroke-width="1.1"/></svg>
</body></html>
